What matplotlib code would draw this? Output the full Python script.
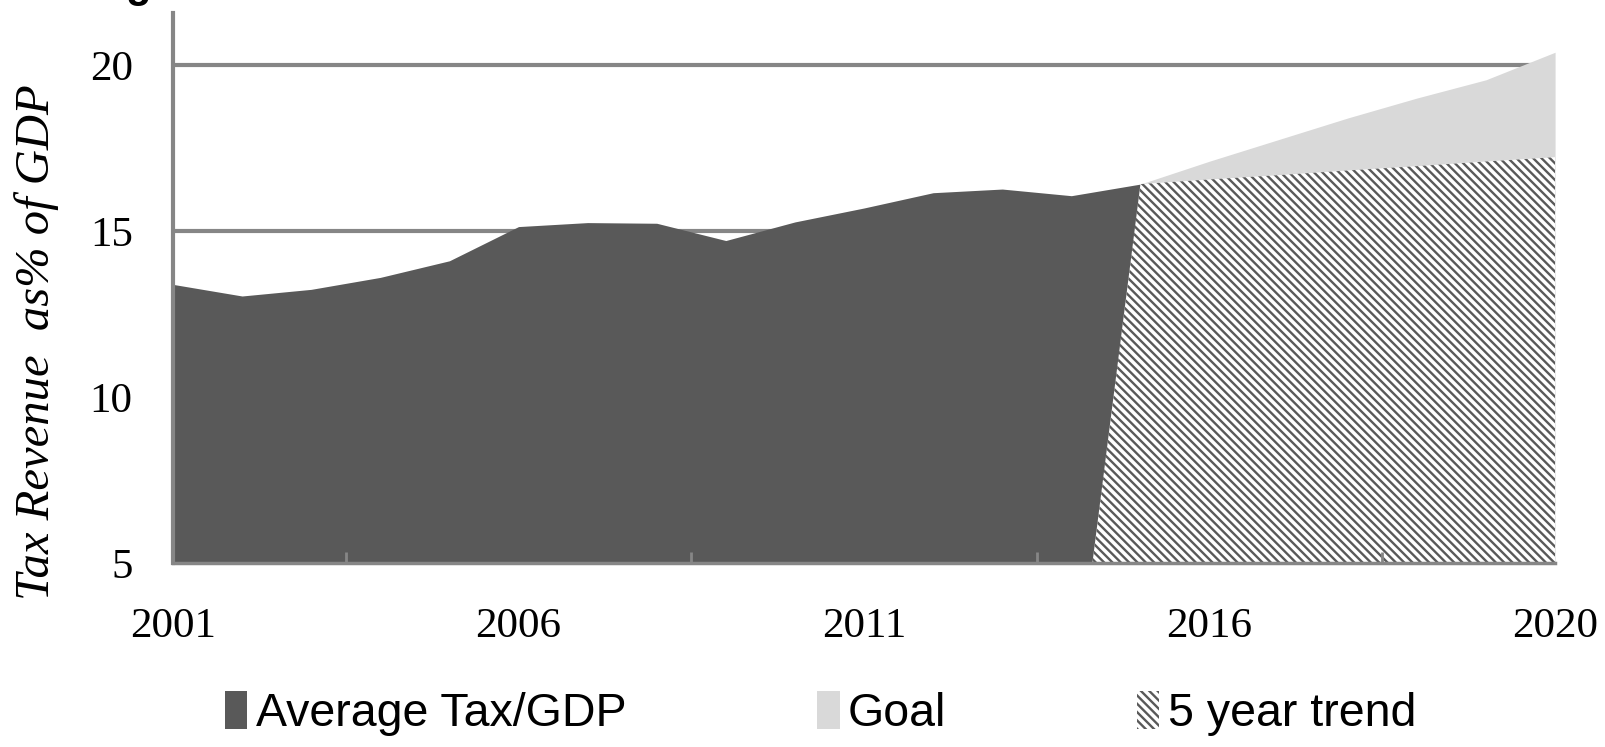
import matplotlib
matplotlib.use("Agg")
import matplotlib.pyplot as plt
from matplotlib.patches import Patch

# year index 0 = 2001
years_actual = list(range(0, 15))
avg_tax = [13.39, 13.04, 13.24, 13.6, 14.1, 15.13, 15.25, 15.23, 14.71,
           15.27, 15.69, 16.15, 16.26, 16.06, 16.41]

years_goal = list(range(14, 21))
goal = [16.41, 17.1, 17.75, 18.4, 19.0, 19.55, 20.38]

years_trend = list(range(13, 21))
trend = [0.0, 16.41, 16.55, 16.68, 16.82, 16.95, 17.09, 17.22]

xtick_pos = [0, 5, 10, 15, 20]
xtick_labels = ["2001", "2006", "2011", "2016", "2020"]
grid_levels = [15, 20]

dark = "#595959"
light = "#d9d9d9"
grid_c = "#868686"
hatch = "\\" * 4

plt.rcParams['hatch.linewidth'] = 1.7
plt.rcParams['hatch.color'] = dark

fig = plt.figure(figsize=(16.06, 7.47), dpi=100)
ax = fig.add_axes([0.1077, 0.2463, 0.8606, 0.7367])

for g in grid_levels:
    ax.axhline(g, color=grid_c, lw=3, zorder=0.5)

ax.fill_between(years_goal, 0, goal, color=light, lw=0, zorder=1)
ax.fill_between(years_actual, 0, avg_tax, color=dark, lw=0, zorder=1.1)
ax.fill_between(years_trend, 0, trend, facecolor="white", edgecolor=dark,
                hatch=hatch, lw=0, zorder=1.2)

ax.set_xlim(0, 20)
ax.set_ylim(5, 21.57)

ax.set_yticks([5, 10, 15, 20])
ax.set_xticks(xtick_pos)
ax.set_xticklabels(xtick_labels)
ax.set_xticks([2.5, 7.5, 12.5, 17.5], minor=True)
ax.tick_params(axis="x", which="major", length=0, pad=32)
ax.tick_params(axis="x", which="minor", direction="in", length=8,
               width=2, color=grid_c)
ax.tick_params(axis="y", length=0, pad=29)

for lab in ax.get_xticklabels() + ax.get_yticklabels():
    lab.set_fontsize(31)
    lab.set_family("Liberation Serif")

for s in ["top", "right"]:
    ax.spines[s].set_visible(False)
ax.spines["left"].set_color(grid_c)
ax.spines["left"].set_linewidth(3)
ax.spines["bottom"].set_color(grid_c)
ax.spines["bottom"].set_linewidth(2.5)

fig.text(0.023, 0.542, "Tax Revenue  as% of GDP", rotation=90,
         ha="center", va="center", fontsize=35, style="italic",
         family="Liberation Serif")

# cut-off title fragment at the top edge
fig.text(0.078, 1.004, "g", fontsize=30, weight="bold",
         family="Liberation Sans", va="baseline")

handles = [Patch(facecolor=dark, lw=0),
           Patch(facecolor=light, lw=0),
           Patch(facecolor="white", edgecolor=dark, hatch=hatch, lw=0)]
labels = ["Average Tax/GDP", "Goal", "5 year trend"]
fig.legend(handles, labels, loc="center", bbox_to_anchor=(0.511, 0.045),
           ncol=3, frameon=False,
           prop={"family": "Liberation Sans", "size": 33.5},
           handlelength=0.48, handleheight=0.9, handletextpad=0.18,
           columnspacing=4.1)

fig.savefig("out.png", dpi=100)
